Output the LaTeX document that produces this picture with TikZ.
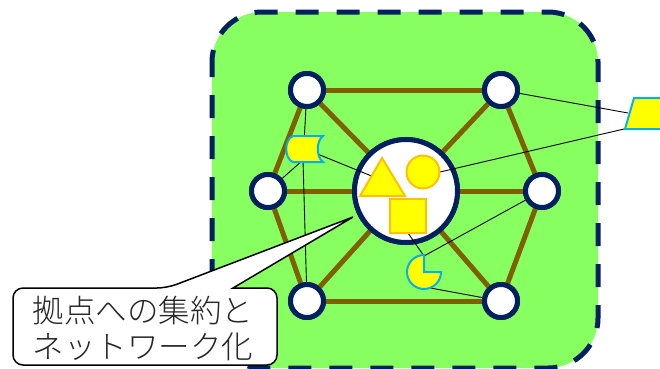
\documentclass[tikz,border=0pt]{standalone}
\usepackage{fontspec}
\newfontfamily\cjk{Noto Sans CJK JP Light}
\definecolor{navy}{HTML}{002060}
\definecolor{grn}{HTML}{88FF60}
\definecolor{brn}{HTML}{7F6000}
\definecolor{ylw}{HTML}{FFFF00}
\definecolor{org}{HTML}{FFC000}
\definecolor{cyn}{HTML}{00B0F0}
\begin{document}
\begin{tikzpicture}[x=1pt,y=-1pt,
  hub/.style={circle,draw=navy,fill=white,line width=5pt,inner sep=0pt,minimum size=33pt},
  bighub/.style={circle,draw=navy,fill=white,line width=5pt,inner sep=0pt,minimum size=103pt},
  link/.style={draw=brn,line width=5pt},
  thinline/.style={draw=black,line width=0.9pt},
  item/.style={fill=ylw,draw=org,line width=2pt,line join=miter},
  data/.style={fill=ylw,draw=cyn,line width=2pt},
  callout/.style={fill=white,draw=black,line width=1.5pt}]
\useasboundingbox (0,0) rectangle (660,368);
\clip (0,0) rectangle (660,368);
% area
\fill[grn,rounded corners=50pt] (212,12) rectangle (598,368);
\draw[navy,line width=5pt,dash pattern=on 23pt off 18pt,dash phase=8pt,rounded corners=50pt] (212,12) rectangle (598,368);
% node positions (drawn first so the links can refer to them)
\node[bighub] (c) at (406,191) {};
\node[hub] (tl) at (307,90) {};
\node[hub] (tr) at (501,90) {};
\node[hub] (ml) at (268,191) {};
\node[hub] (mr) at (542,191) {};
\node[hub] (bl) at (307,301) {};
\node[hub] (br) at (501,301) {};
% brown links
\path[link] (tl) -- (tr);
\path[link] (tr) -- (mr);
\path[link] (mr) -- (br);
\path[link] (br) -- (bl);
\path[link] (bl) -- (ml);
\path[link] (ml) -- (tl);
\foreach \n in {tl,tr,ml,mr,bl,br} \path[link] (c) -- (\n);
% redraw nodes on top of the links
\node[bighub] at (c.center) {};
\foreach \n in {tl,tr,ml,mr,bl,br} \node[hub] at (\n.center) {};
% coordinates for thin lines
\coordinate (docb) at (303,160);
\coordinate (docr) at (315,153);
\coordinate (tri) at (374,177);
\coordinate (circr) at (440,172);
\coordinate (sqb) at (408,233);
\coordinate (piet) at (424,256);
\coordinate (pieb) at (425,287);
\coordinate (paraa) at (628,113);
\coordinate (parab) at (624,129);
% thin lines
\path[thinline] (tl) -- (docb);
\path[thinline] (docb) -- (bl);
\path[thinline] (docb) -- (ml);
\path[thinline] (docr) -- (tri);
\path[thinline] (tr) -- (paraa);
\path[thinline] (circr) -- (parab);
\path[thinline] (sqb) -- (piet);
\path[thinline] (piet) -- (mr);
\path[thinline] (pieb) -- (br);
% items in the hub
\path[item] (382,158) -- (405,196) -- (360,196) -- cycle;
\path[item] (423,172) circle[radius=16.5];
\path[item] (390,199) rectangle (426,233);
% data shapes
\path[data] (293,136) -- (323,136) .. controls (316,141) and (316,157) .. (323,162) -- (293,162) .. controls (284,159) and (284,139) .. (293,136) -- cycle;
\path[data] (424,272) -- (424,255) arc[start angle=270,end angle=0,radius=17] -- cycle;
\path[data] (634,98) -- (672,98) -- (663,129) -- (625,129) -- cycle;
% callout
\path[callout] (13,298) [rounded corners=10pt] -- (13,288) -- (167,288) [sharp corners] -- (353,217) -- (233,288) [rounded corners=10pt] -- (277,288) -- (277,365) -- (13,365) -- (13,298);
\node[text=black!85,align=left,inner sep=0pt,font=\cjk\fontsize{31.5}{36}\selectfont] (txt) at (143,328) {拠点への集約と\\ネットワーク化};
\end{tikzpicture}
\end{document}
